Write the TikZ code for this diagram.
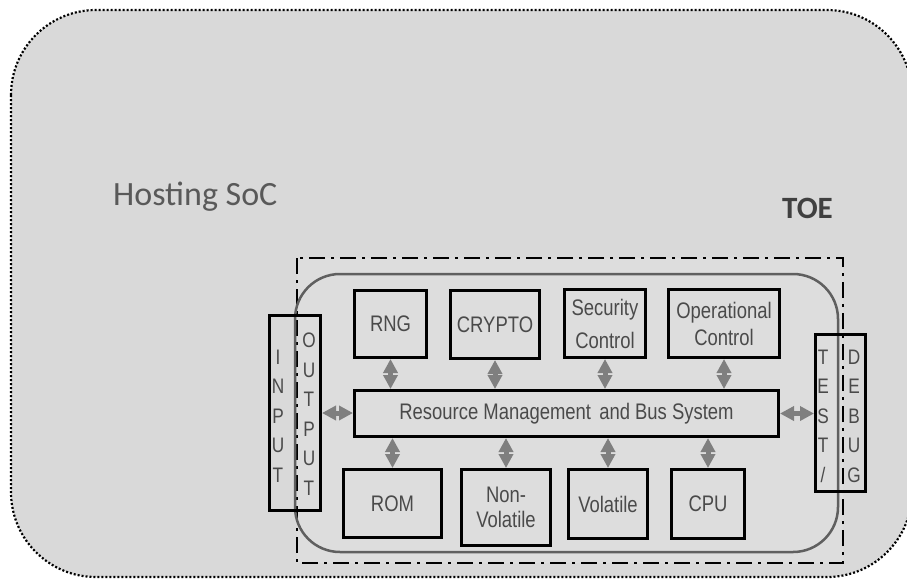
\documentclass[tikz,border=0pt]{standalone}
\usepackage{fontspec}
\newfontfamily\narrowfont[FakeStretch=0.82]{Liberation Sans}
\newfontfamily\calfont{Carlito}
\usetikzlibrary{arrows.meta}
\definecolor{socgray}{HTML}{D9D9D9}
\definecolor{toegray}{HTML}{DDDDDD}
\definecolor{linegray}{HTML}{5F5F5F}
\definecolor{arrowgray}{HTML}{7F7F7F}
\definecolor{textgray}{HTML}{4A4A4A}
\definecolor{labelgray}{HTML}{595959}
\definecolor{toetext}{HTML}{404040}
\begin{document}
\begin{tikzpicture}[x=1pt,y=-1pt,
  blk/.style={draw=black, line width=3pt, inner sep=0pt, align=center, text=textgray,
    font=\narrowfont\fontsize{22.5}{27}\selectfont},
  biarrow/.style={draw=arrowgray, line width=5pt,
    {Triangle[length=14pt,width=14pt]}-{Triangle[length=14pt,width=14pt]}},
  letters/.style={align=center, inner sep=0pt, text=textgray,
    font=\narrowfont\fontsize{21}{29.5}\selectfont},
  iobox/.style={draw=black, line width=3pt, inner sep=0pt},
]
\useasboundingbox (0,0) rectangle (907,579);
\fill[white] (0,0) rectangle (907,579);
% Hosting SoC
\draw[fill=socgray, line width=2.2pt, dash pattern=on 2pt off 2pt, rounded corners=85pt]
  (11,10) rectangle (912,577);
\node[anchor=base west, inner sep=0pt, text=labelgray, font=\calfont\fontsize{34}{40}\selectfont]
  (soc) at (113,205) {Hosting SoC};
\node[anchor=base west, inner sep=0pt, text=toetext, font=\calfont\bfseries\fontsize{31}{36}\selectfont]
  (toe) at (782,218) {TOE};
% TOE boundary
\draw[fill=toegray, line width=2.5pt, dash pattern=on 16pt off 6pt on 3pt off 6pt]
  (297,258) rectangle (843,563);
\draw[draw=linegray, line width=2.5pt, rounded corners=45pt] (295,274) rectangle (838,552);
% blocks
\node[blk, minimum width=72pt, minimum height=67pt] (rng) at (390.5,324) {RNG};
\node[blk, minimum width=89pt, minimum height=68pt] (crypto) at (495,324.5) {CRYPTO};
\node[blk, minimum width=81pt, minimum height=68pt,
  font=\narrowfont\fontsize{22.5}{33}\selectfont] (sec) at (605,323.5) {Security\\Control};
\node[blk, minimum width=111pt, minimum height=68pt] (op) at (724,323.5) {Operational\\Control};
\node[blk, minimum width=424pt, minimum height=46pt] (bus) at (566.5,413.5)
  {Resource Management\hspace{3pt} and Bus System};
\node[blk, minimum width=98pt, minimum height=68pt] (rom) at (392.5,503.5) {ROM};
\node[blk, minimum width=89pt, minimum height=76pt,
  font=\narrowfont\fontsize{22.5}{25}\selectfont] (nv) at (506,507.5) {Non-\\Volatile};
\node[blk, minimum width=79pt, minimum height=69pt] (vol) at (608,504) {Volatile};
\node[blk, minimum width=73pt, minimum height=69pt] (cpu) at (708,504) {CPU};
% interface boxes
\node[iobox, minimum width=51pt, minimum height=195pt] (io) at (295,413) {};
\node[iobox, minimum width=50pt, minimum height=157pt] (td) at (840.5,413) {};
\node[letters] (inp) at (278,416) {I\\N\\P\\U\\T};
\node[letters] (outp) at (309,414) {O\\U\\T\\P\\U\\T};
\node[letters] (test) at (823,416) {T\\E\\S\\T\\/};
\node[letters] (debug) at (854,416) {D\\E\\B\\U\\G};
% arrows
\draw[biarrow] (rng.south) -- (rng.south |- bus.north);
\draw[biarrow] (crypto.south) -- (crypto.south |- bus.north);
\draw[biarrow] (sec.south) -- (sec.south |- bus.north);
\draw[biarrow] (op.south) -- (op.south |- bus.north);
\draw[biarrow] (rom.north |- bus.south) -- (rom.north);
\draw[biarrow] (nv.north |- bus.south) -- (nv.north);
\draw[biarrow] (vol.north |- bus.south) -- (vol.north);
\draw[biarrow] (cpu.north |- bus.south) -- (cpu.north);
\draw[biarrow] (io.east) -- (io.east -| bus.west);
\draw[biarrow] (bus.east) -- (bus.east -| td.west);
\end{tikzpicture}
\end{document}
